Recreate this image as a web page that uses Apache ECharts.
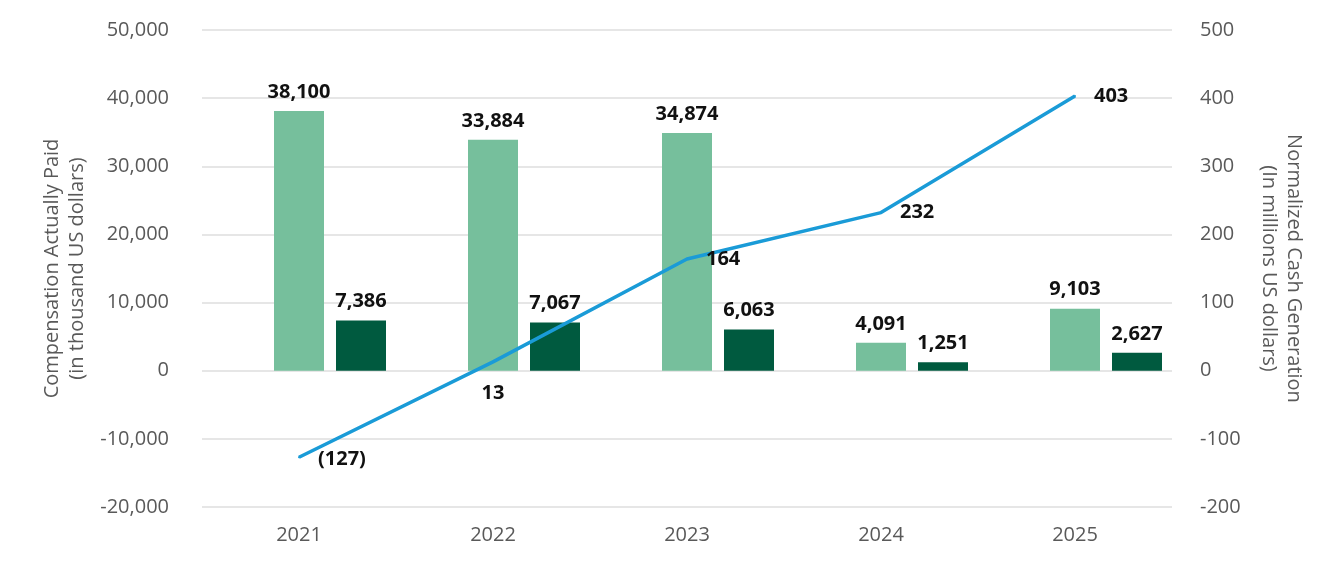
<!DOCTYPE html>
<html lang="en">
<head>
  <meta charset="UTF-8">
  <title>compensation-vs-cash</title>
  <style>
    html, body { margin: 0; padding: 0; background: #fff; }
    #chart { width: 1344px; height: 576px; }
  </style>
</head>
<body>
<div id="chart"></div>
<script src="https://cdn.jsdelivr.net/npm/echarts@6/dist/echarts.min.js"></script>
<script>
  const years = ['2021', '2022', '2023', '2024', '2025'];
  const capLight = [38100, 33884, 34874, 4091, 9103];
  const capDark = [7386, 7067, 6063, 1251, 2627];
  const cashGen = [-127, 13, 164, 232, 403];
  const lineLabelPos = ['right', 'bottom', 'right', 'right', 'right'];

  const font = '"Open Sans", "Noto Sans", sans-serif';
  const fmt = (v) => v.toLocaleString('en-US');
  const fmtNeg = (v) => v < 0 ? '(' + fmt(-v) + ')' : fmt(v);

  const barLabel = {
    show: true, position: 'top', distance: 9,
    fontFamily: font, fontSize: 20, fontWeight: 'bold', color: '#111',
    formatter: (p) => fmt(p.value)
  };

  const chart = echarts.init(document.getElementById('chart'));
  chart.setOption({
    animation: false,
    textStyle: {fontFamily: font},
    grid: {left: 202, right: 172, top: 30, bottom: 69, containLabel: false},
    xAxis: {
      type: 'category',
      data: years,
      axisLine: {show: false},
      axisTick: {show: false},
      axisLabel: {color: '#595959', fontSize: 20, margin: 18, fontFamily: font}
    },
    yAxis: [
      {
        type: 'value', min: -20000, max: 50000, interval: 10000,
        name: 'Compensation Actually Paid\n(in thousand US dollars)',
        nameLocation: 'middle', nameGap: 111,
        nameTextStyle: {color: '#595959', fontSize: 20, lineHeight: 25, fontFamily: font},
        axisLabel: {color: '#595959', fontSize: 20, margin: 33, formatter: fmt, fontFamily: font},
        splitLine: {lineStyle: {color: '#e6e6e6', width: 2}}
      },
      {
        type: 'value', min: -200, max: 500, interval: 100,
        name: 'Normalized Cash Generation\n(In millions US dollars)',
        nameLocation: 'middle', nameGap: 84, nameRotate: -90,
        nameTextStyle: {color: '#595959', fontSize: 20, lineHeight: 25, fontFamily: font},
        axisLabel: {color: '#595959', fontSize: 20, margin: 28, fontFamily: font},
        splitLine: {show: false}
      }
    ],
    series: [
      {
        // empty slot so the light bar sits on the category centre
        type: 'bar', barWidth: 50, barGap: '24%',
        data: years.map(() => null)
      },
      {
        type: 'bar', barWidth: 50, barGap: '24%',
        itemStyle: {color: '#76bf9c'},
        label: barLabel,
        data: capLight
      },
      {
        type: 'bar', barWidth: 50, barGap: '24%',
        itemStyle: {color: '#005a3f'},
        label: barLabel,
        data: capDark
      },
      {
        type: 'line', yAxisIndex: 1,
        symbol: 'circle', showSymbol: true, symbolSize: 2,
        itemStyle: {color: '#1a9bd7'},
        lineStyle: {color: '#1a9bd7', width: 3.5},
        z: 5,
        label: {
          show: true, fontFamily: font, fontSize: 20, fontWeight: 'bold', color: '#111',
          formatter: (p) => fmtNeg(p.value)
        },
        data: cashGen.map((v, i) => ({
          value: v,
          label: lineLabelPos[i] === 'bottom'
            ? {show: true, position: 'bottom', distance: 20}
            : {show: true, position: 'right', distance: 18, offset: [0, i === 0 ? 2 : 0]}
        }))
      }
    ]
  });
</script>
</body>
</html>
